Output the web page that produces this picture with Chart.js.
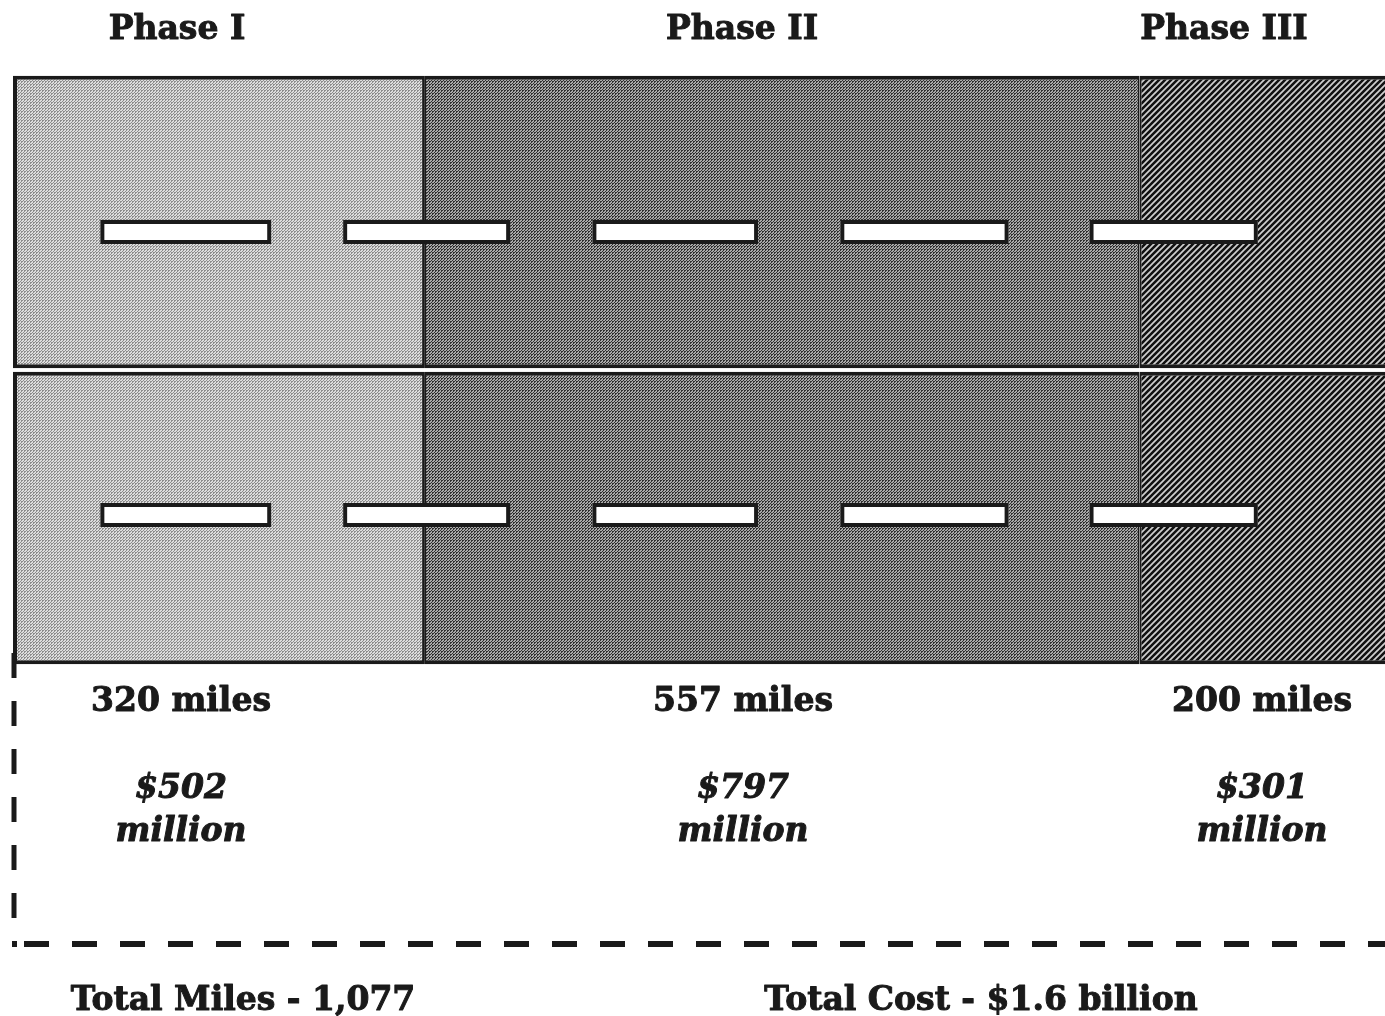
<!DOCTYPE html>
<html>
<head>
<meta charset="utf-8">
<title>Highway Program Phases</title>
<script src="https://cdn.jsdelivr.net/npm/chart.js@4/dist/chart.umd.min.js"></script>
<style>
  html, body { margin: 0; padding: 0; background: #ffffff; overflow: hidden; }
  #wrap { position: relative; width: 1385px; height: 1016px; }
</style>
</head>
<body>
<div id="wrap"><canvas id="road"></canvas></div>
<script>
// Program phases and their lengths (miles) and costs
const phases = ['Phase I', 'Phase II', 'Phase III'];
const miles = [320, 557, 200];
const costMillions = [502, 797, 301];
const lanes = ['Lane 1', 'Lane 2'];

// Lane stripe marks along the road, in miles from the start
const stripeStart = [68, 257, 451, 644, 838];
const stripeEnd = [201, 387, 580, 775, 969];

const totalMiles = '1,077';
const totalCost = '$1.6 billion';

// Fill patterns for the three phases
function dotPattern(dark, light) {
  const c = document.createElement('canvas');
  c.width = 3; c.height = 3;
  const g = c.getContext('2d');
  g.fillStyle = light; g.fillRect(0, 0, 3, 3);
  g.fillStyle = dark;
  g.fillRect(0, 0, 2, 1); g.fillRect(0, 1, 1, 1);
  g.fillRect(2, 2, 1, 1);
  return g.createPattern(c, 'repeat');
}
function hatchPattern(dark, light) {
  const s = 6;
  const c = document.createElement('canvas');
  c.width = s; c.height = s;
  const g = c.getContext('2d');
  g.fillStyle = dark; g.fillRect(0, 0, s, s);
  g.strokeStyle = light; g.lineWidth = 1.7;
  g.beginPath();
  g.moveTo(-1, s + 1); g.lineTo(s + 1, -1);
  g.moveTo(-1, 1); g.lineTo(1, -1);
  g.moveTo(s - 1, s + 1); g.lineTo(s + 1, s - 1);
  g.stroke();
  return g.createPattern(c, 'repeat');
}
const fills = [
  dotPattern('#8c8c8c', '#dcdcdc'),
  dotPattern('#303030', '#a8a8a8'),
  hatchPattern('#111111', '#cfcfcf')
];

const INK = '#1a1a1a';
const SERIF = '"DejaVu Serif", "Liberation Serif", serif';

// heavy serif text: fill plus a thin stroke of the same ink
function heavyText(ctx, text, x, y) {
  ctx.fillText(text, x, y);
  ctx.strokeText(text, x, y);
}

// Lane stripes plus the labels and dashed frame underneath the road
const roadDecor = {
  id: 'roadDecor',
  afterDatasetsDraw(chart) {
    const { ctx, chartArea } = chart;
    const x = chart.scales.x, y = chart.scales.y;
    const laneShift = [10, -3];
    ctx.save();
    lanes.forEach((lane, li) => {
      const cy = y.getPixelForValue(li) + laneShift[li];
      stripeStart.forEach((s, i) => {
        const x1 = x.getPixelForValue(s), x2 = x.getPixelForValue(stripeEnd[i]);
        ctx.fillStyle = '#ffffff';
        ctx.fillRect(x1, cy - 11, x2 - x1, 22);
        ctx.strokeStyle = INK; ctx.lineWidth = 4;
        ctx.strokeRect(x1 + 2, cy - 10, x2 - x1 - 4, 20);
      });
    });

    // dashed bracket below the road
    const lx = chartArea.left + 1;
    ctx.strokeStyle = INK;
    ctx.lineCap = 'butt';
    ctx.lineWidth = 5;
    ctx.setLineDash([25, 23]);
    ctx.beginPath();
    ctx.moveTo(lx, chartArea.bottom - 13);
    ctx.lineTo(lx, 925);
    ctx.stroke();
    ctx.lineWidth = 6;
    ctx.beginPath();
    ctx.moveTo(lx + 10, 944);
    ctx.lineTo(1385, 944);
    ctx.stroke();
    ctx.setLineDash([]);
    ctx.fillStyle = INK;
    ctx.fillRect(lx - 2, 941, 5, 6);

    // phase titles and per-phase figures
    const titleX = [177, 742, 1224];
    const figX = [181, 743, 1262];
    ctx.fillStyle = INK;
    ctx.strokeStyle = INK;
    ctx.lineWidth = 1;
    ctx.lineJoin = 'round';
    ctx.textAlign = 'center';
    ctx.textBaseline = 'alphabetic';
    ctx.font = 'bold 33px ' + SERIF;
    phases.forEach((p, i) => heavyText(ctx, p, titleX[i], 39));
    miles.forEach((m, i) => heavyText(ctx, m + ' miles', figX[i], 711));
    ctx.font = 'italic bold 33px ' + SERIF;
    costMillions.forEach((c, i) => {
      heavyText(ctx, '$' + c, figX[i], 798);
      heavyText(ctx, 'million', figX[i], 841);
    });
    ctx.font = 'bold 33px ' + SERIF;
    heavyText(ctx, 'Total Miles - ' + totalMiles, 243, 1010);
    heavyText(ctx, 'Total Cost - ' + totalCost, 981, 1010);
    ctx.restore();
  }
};

new Chart(document.getElementById('road'), {
  type: 'bar',
  data: {
    labels: lanes,
    datasets: phases.map((p, i) => ({
      label: p,
      data: lanes.map(() => miles[i]),
      backgroundColor: fills[i],
      borderColor: INK,
      borderWidth: { top: 4, bottom: 4, left: i === 0 ? 4 : 2, right: 2 },
      borderSkipped: false,
      barPercentage: 0.988,
      categoryPercentage: 1
    }))
  },
  options: {
    indexAxis: 'y',
    responsive: true,
    maintainAspectRatio: false,
    animation: false,
    layout: { padding: { left: 13, top: 74, right: 0, bottom: 350 } },
    scales: {
      x: { stacked: true, min: 0, max: 1068, display: false },
      y: { stacked: true, display: false }
    },
    plugins: { legend: { display: false }, tooltip: { enabled: false } }
  },
  plugins: [roadDecor]
});
</script>
</body>
</html>
